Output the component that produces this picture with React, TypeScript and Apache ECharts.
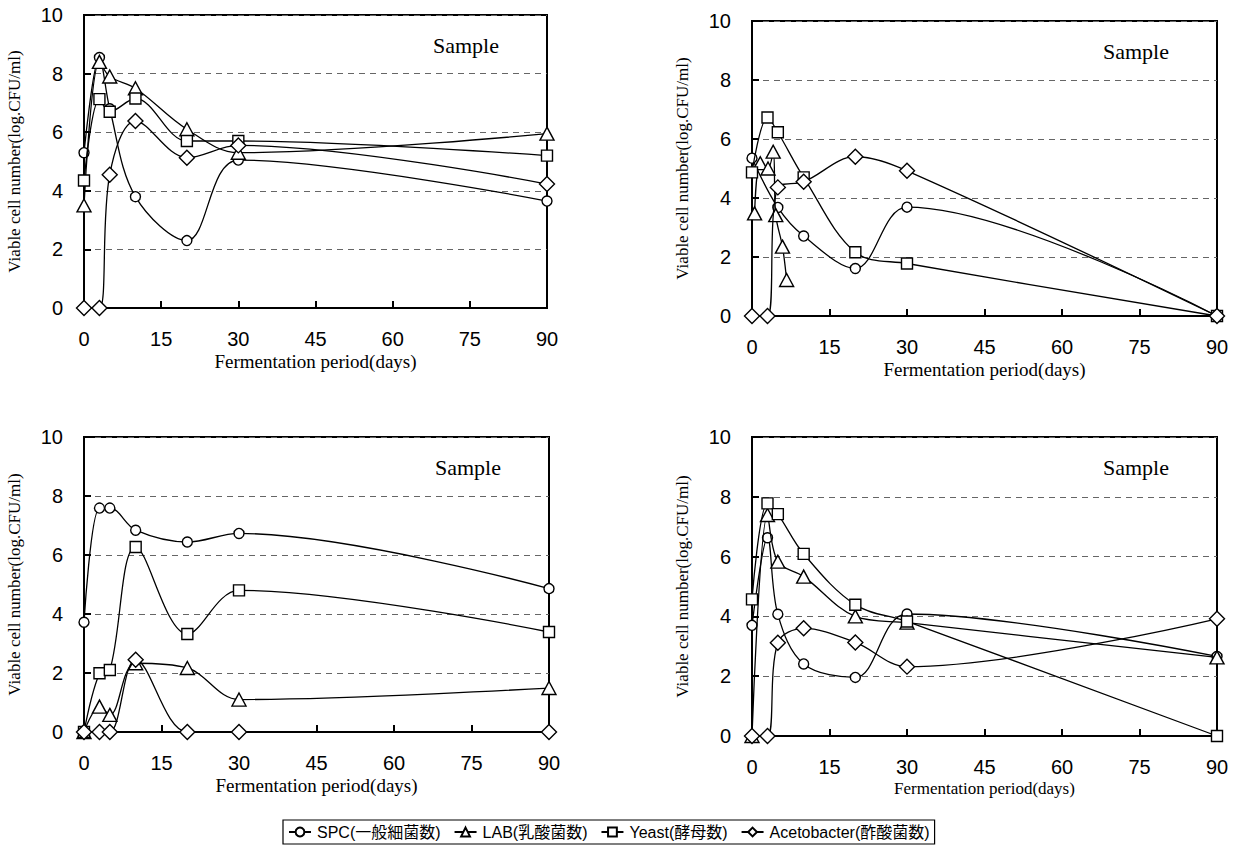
import React, { useEffect, useRef } from "react";
import * as echarts from "echarts";

const days = [0, 3, 5, 10, 20, 30, 90];
const seriesNames = ["SPC(一般細菌数)", "LAB(乳酸菌数)", "Yeast(酵母数)", "Acetobacter(酢酸菌数)"];

// Panel 1 (top-left)
const spc1 = [5.3, 8.55, 6.8, 3.8, 2.3, 5.05, 3.65];
const lab1 = [3.5, 8.4, 7.9, 7.5, 6.1, 5.3, 5.95];
const yeast1 = [4.35, 7.13, 6.7, 7.15, 5.7, 5.7, 5.2];
const aceto1 = [0, 0, 4.55, 6.38, 5.13, 5.55, 4.23];

// Panel 2 (top-right)
const spc2Days = [0, 5, 10, 20, 30, 90];
const spc2 = [5.35, 3.68, 2.71, 1.61, 3.69, 0];
const lab2Days = [0.5, 1.6, 3.1, 4.1, 4.6, 5.9, 6.7];
const lab2 = [3.48, 5.18, 5.0, 5.57, 3.42, 2.35, 1.22];
const yeast2 = [4.87, 6.73, 6.23, 4.7, 2.16, 1.78, 0];
const aceto2 = [0, 0, 4.36, 4.55, 5.4, 4.92, 0];

// Panel 3 (bottom-left)
const spc3 = [3.72, 7.59, 7.59, 6.84, 6.44, 6.73, 4.86];
const lab3 = [0, 0.86, 0.58, 2.33, 2.17, 1.1, 1.49];
const yeast3 = [0, 1.99, 2.1, 6.27, 3.32, 4.8, 3.39];
const aceto3 = [0, 0, 0, 2.45, 0, 0, 0];

// Panel 4 (bottom-right)
const spc4 = [3.7, 6.63, 4.07, 2.41, 1.96, 4.08, 2.66];
const lab4 = [0, 7.39, 5.83, 5.33, 4.0, 3.79, 2.63];
const yeast4 = [4.57, 7.78, 7.42, 6.09, 4.39, 3.83, 0];
const aceto4 = [0, 0, 3.12, 3.6, 3.13, 2.32, 3.92];

const panels = [
  { spc: [days, spc1], lab: [days, lab1], yeast: [days, yeast1], aceto: [days, aceto1] },
  { spc: [spc2Days, spc2], lab: [lab2Days, lab2], yeast: [days, yeast2], aceto: [days, aceto2] },
  { spc: [days, spc3], lab: [days, lab3], yeast: [days, yeast3], aceto: [days, aceto3] },
  { spc: [days, spc4], lab: [days, lab4], yeast: [days, yeast4], aceto: [days, aceto4] },
];

const grids = [
  { left: 84, top: 15, width: 463, height: 293 },
  { left: 752, top: 21, width: 465, height: 295 },
  { left: 84, top: 437, width: 465, height: 295 },
  { left: 752, top: 437, width: 465, height: 299 },
];

const symbols: any[] = [
  { symbol: "circle", size: 10 },
  { symbol: "triangle", size: [14, 13] },
  { symbol: "rect", size: 11 },
  { symbol: "diamond", size: [15, 15] },
];

const SANS = "'Liberation Sans', Arial, 'Noto Sans CJK JP', sans-serif";
const SERIF = "'Liberation Serif', 'Times New Roman', serif";

export default function App() {
  const ref = useRef<HTMLDivElement>(null);
  useEffect(() => {
    if (!ref.current) return;
    const chart = echarts.init(ref.current, undefined, { renderer: "svg" });
    const keys = ["spc", "lab", "yeast", "aceto"];
    const series: any[] = [];
    panels.forEach((p: any, pi) => {
      keys.forEach((k, si) => {
        const [xs, ys] = p[k];
        series.push({
          type: "line",
          name: seriesNames[si],
          xAxisIndex: pi,
          yAxisIndex: pi,
          data: xs.map((x: number, i: number) => [x, ys[i]]),
          smooth: 0.35,
          symbol: symbols[si].symbol,
          symbolSize: symbols[si].size,
          showAllSymbol: true,
          itemStyle: { color: "#fff", borderColor: "#000", borderWidth: 1.4 },
          lineStyle: { color: "#000", width: 1.3 },
          z: 2 + si,
          emphasis: { disabled: true },
        });
      });
    });

    const xAxes = grids.map((_, i) => ({
      type: "value",
      gridIndex: i,
      min: 0,
      max: 90,
      interval: 15,
      axisLine: { show: true, onZero: false, lineStyle: { color: "#000", width: 2 } },
      axisTick: { show: true, inside: true, length: 7, lineStyle: { color: "#000", width: 2 } },
      axisLabel: { color: "#000", fontSize: 20, fontFamily: SANS, margin: 21 },
      splitLine: { show: false },
      name: "Fermentation period(days)",
      nameLocation: "middle",
      nameGap: 44,
      nameTextStyle: { fontFamily: SERIF, fontSize: i === 3 ? 17 : 19, color: "#000" },
    }));
    const yAxes = grids.map((_, i) => ({
      type: "value",
      gridIndex: i,
      min: 0,
      max: 10,
      interval: 2,
      axisLine: { show: true, onZero: false, lineStyle: { color: "#000", width: 2 } },
      axisTick: { show: true, inside: true, length: 7, lineStyle: { color: "#000", width: 2 } },
      axisLabel: { color: "#000", fontSize: 20, fontFamily: SANS, margin: 21 },
      splitLine: { show: true, lineStyle: { type: [6, 5], color: "#666", width: 1.2 } },
      name: "Viable cell number(log.CFU/ml)",
      nameLocation: "middle",
      nameGap: 61,
      nameTextStyle: { fontFamily: SERIF, fontSize: 17, color: "#000" },
    }));

    chart.setOption({
      animation: false,
      backgroundColor: "#fff",
      grid: grids.map((g) => ({ ...g, show: true, borderColor: "#000", borderWidth: 2, containLabel: false })),
      xAxis: xAxes,
      yAxis: yAxes,
      series,
      legend: {
        data: seriesNames,
        left: 283,
        top: 820,
        orient: "horizontal",
        borderColor: "#000",
        borderWidth: 1.2,
        padding: [4, 5],
        itemGap: 13,
        itemWidth: 22,
        itemHeight: 11,
        selectedMode: false,
        textStyle: { fontFamily: SANS, fontSize: 16, color: "#000", padding: [0, 0, 0, 1] },
      },
      graphic: grids.map((g) => ({
        type: "text",
        left: g.left + g.width - 114,
        top: g.top + 19,
        style: { text: "Sample", font: `22px ${SERIF}`, fill: "#000" },
      })),
    });
    return () => chart.dispose();
  }, []);
  return (
    <div
      ref={ref}
      style={{ position: "fixed", left: 0, top: 0, width: 1242, height: 868, background: "#fff" }}
    />
  );
}
